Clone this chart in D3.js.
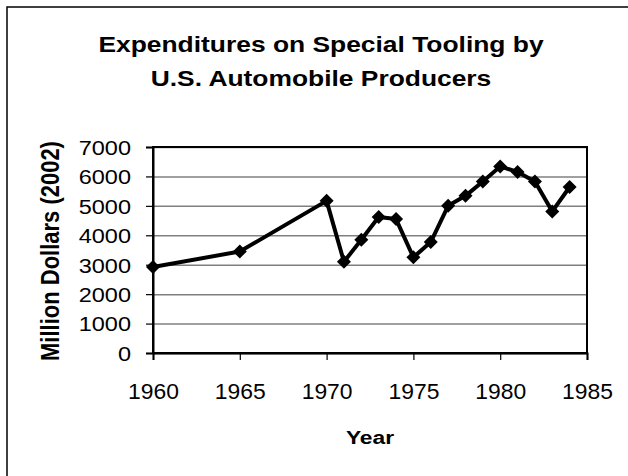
<!DOCTYPE html>
<html>
<head>
<meta charset="utf-8">
<script src="https://cdn.jsdelivr.net/npm/d3@7"></script>
<style>
  html, body { margin: 0; padding: 0; background: #fff; }
  svg { display: block; font-family: "Liberation Sans", Arial, sans-serif; }
</style>
</head>
<body>
<svg id="chart" width="628" height="476"></svg>
<script>
// ---- data ----
const titleLines = ["Expenditures on Special Tooling by", "U.S. Automobile Producers"];
const xTitle = "Year";
const yTitle = "Million Dollars (2002)";
const years = [1960, 1965, 1970, 1971, 1972, 1973, 1974, 1975, 1976, 1977, 1978, 1979, 1980, 1981, 1982, 1983, 1984];
const spending = [2920, 3450, 5170, 3100, 3850, 4620, 4550, 3250, 3770, 5000, 5340, 5830, 6340, 6150, 5830, 4810, 5640];
const xTicks = [1960, 1965, 1970, 1975, 1980, 1985];
const yTicks = [0, 1000, 2000, 3000, 4000, 5000, 6000, 7000];

const SX = 1.2; // horizontal stretch of bold text in the reference
const svg = d3.select("#chart");
const plot = { left: 153, right: 587, top: 147, bottom: 353 };

const x = d3.scaleLinear().domain([1960, 1985]).range([plot.left, plot.right]);
const y = d3.scaleLinear().domain([0, 7000]).range([plot.bottom, plot.top]);

// outer chart frame (right/bottom edges fall outside the picture)
svg.append("rect")
  .attr("x", 7).attr("y", 7).attr("width", 640).attr("height", 500)
  .attr("fill", "none").attr("stroke", "#000").attr("stroke-width", 1.5);

// title
const tg = svg.append("g").attr("transform", `translate(321,0) scale(${SX},1)`);
titleLines.forEach((t, i) => {
  tg.append("text").attr("x", 0).attr("y", 52 + i * 34)
    .attr("text-anchor", "middle").attr("font-weight", "bold").attr("font-size", 22)
    .text(t);
});

// gridlines
svg.append("g")
  .attr("transform", `translate(${plot.left},0)`)
  .call(d3.axisLeft(y).tickValues(yTicks).tickSize(-(plot.right - plot.left)).tickFormat(""))
  .call(g => g.select(".domain").remove())
  .call(g => g.selectAll(".tick line").attr("stroke", "#808080").attr("stroke-width", 1.5));

// plot frame
svg.append("rect")
  .attr("x", plot.left).attr("y", plot.top)
  .attr("width", plot.right - plot.left).attr("height", plot.bottom - plot.top)
  .attr("fill", "none").attr("stroke", "#000").attr("stroke-width", 2);

// y axis
const ySX = 1.12;
const yAxis = svg.append("g")
  .attr("transform", `translate(${plot.left},0)`)
  .call(d3.axisLeft(y).tickValues(yTicks).tickSize(7).tickPadding(0).tickFormat(d3.format("d")));
yAxis.select(".domain").attr("stroke", "#000").attr("stroke-width", 2);
yAxis.selectAll(".tick line").attr("stroke", "#000").attr("stroke-width", 1.2);
yAxis.selectAll(".tick text")
  .attr("font-size", 21).attr("font-family", "Liberation Sans, Arial, sans-serif").attr("fill", "#000")
  .attr("x", -22 / ySX).attr("dy", "0.35em")
  .attr("transform", `scale(${ySX},1)`);

// x axis
const xSX = 1.04;
const xAxis = svg.append("g")
  .attr("transform", `translate(0,${plot.bottom})`)
  .call(d3.axisBottom(x).tickValues(xTicks).tickSize(7).tickFormat(d3.format("d")));
xAxis.select(".domain").attr("stroke", "#000").attr("stroke-width", 2);
xAxis.selectAll(".tick line").attr("stroke", "#000").attr("stroke-width", 1.2);
xAxis.selectAll(".tick text")
  .attr("font-size", 22).attr("font-family", "Liberation Sans, Arial, sans-serif").attr("fill", "#000")
  .attr("y", 46).attr("dy", 0)
  .attr("transform", `scale(${xSX},1)`);

// axis titles
svg.append("text")
  .attr("transform", `translate(370,444) scale(${SX},1)`)
  .attr("text-anchor", "middle").attr("font-weight", "bold").attr("font-size", 19)
  .text(xTitle);
svg.append("text")
  .attr("transform", `translate(59,251) scale(${SX},1) rotate(-90)`)
  .attr("text-anchor", "middle").attr("font-weight", "bold").attr("font-size", 22)
  .text(yTitle);

// series
const pts = years.map((yr, i) => ({ yr, v: spending[i] }));
svg.append("path")
  .datum(pts)
  .attr("fill", "none").attr("stroke", "#000").attr("stroke-width", 4).attr("stroke-linejoin", "round")
  .attr("d", d3.line().x(d => x(d.yr)).y(d => y(d.v)));

const diamond = "M0,-7L7,0L0,7L-7,0Z";
svg.append("g").selectAll("path")
  .data(pts).join("path")
  .attr("transform", d => `translate(${x(d.yr)},${y(d.v)})`)
  .attr("d", diamond).attr("fill", "#000");
</script>
</body>
</html>
